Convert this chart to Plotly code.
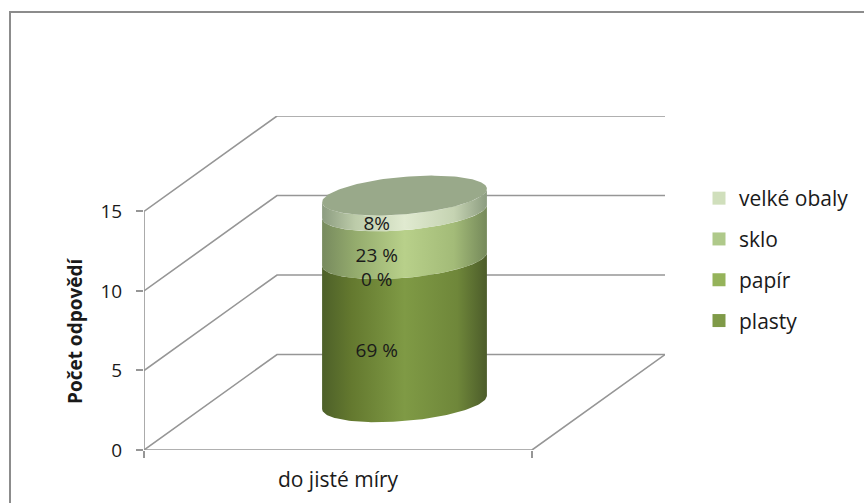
import numpy as np
import plotly.graph_objects as go

category = "do jisté míry"
series_names = ["plasty", "papír", "sklo", "velké obaly"]
series_values = [9, 0, 3, 1]
data_labels = ["69 %", "0 %", "23 %", "8%"]
y_ticks = [0, 5, 10, 15]
y_title = "Počet odpovědí"

legend_colors = ["#7f9a48", "#95b35a", "#afc98a", "#d0dfbc"]
side_scales = [
    [[0, "#4d6029"], [0.18, "#64792f"], [0.5, "#7f9a45"], [0.82, "#6f873a"], [1, "#4c5c2a"]],
    [[0, "#6a7f40"], [0.5, "#9ab85e"], [1, "#6a7f40"]],
    [[0, "#778a5e"], [0.2, "#94ab6d"], [0.5, "#b8d08a"], [0.8, "#a3bb78"], [1, "#75895a"]],
    [[0, "#8c9c80"], [0.2, "#bccba9"], [0.5, "#e0ead0"], [0.8, "#c5d3b2"], [1, "#8c9c80"]],
]
top_color = "#99a98a"
line_color = "#969696"
frame_color = "#8c8c8c"
text_color = "#1a1a1a"
font = "Open Sans"

W, H = 864, 503
L, R, T, B = 144, 665, 116, 450
DX = 133 / 388
DY = 6.0
RX = 0.2
RD = 0.2086
LABEL_DROP = 0.13


def proj(x, v, d):
    return x + DX * d, v + DY * d


fig = go.Figure()


def line(xs, ys):
    fig.add_trace(go.Scatter(x=xs, y=ys, mode="lines", showlegend=False, hoverinfo="skip",
                             line=dict(color=line_color, width=1.6), cliponaxis=False))


for v in y_ticks:
    x0, y0 = proj(0, v, 1)
    x1, y1 = proj(1, v, 1)
    line([0, x0, x1], [v, y0, y1])
line([0, 0], [0, y_ticks[-1]])
line([0, 1, proj(1, 0, 1)[0]], [0, 0, proj(1, 0, 1)[1]])

t0 = np.arctan2(RD * DX, RX)
front = np.linspace(t0 + np.pi, t0 + 2 * np.pi, 80)
full = np.linspace(0, 2 * np.pi, 160)


def ring(ts, v):
    d = 0.5 + RD * np.sin(ts)
    return proj(0.5 + RX * np.cos(ts), v, d)


base = 0
for name, val, scale in zip(series_names, series_values, side_scales):
    xb, yb = ring(front, base)
    xt, yt = ring(front, base + val)
    fig.add_trace(go.Scatter(
        x=np.r_[xb, xt[::-1], xb[:1]], y=np.r_[yb, yt[::-1], yb[:1]],
        mode="lines", line=dict(width=0), fill="toself",
        fillgradient=dict(type="horizontal", colorscale=scale),
        showlegend=False, hoverinfo="skip"))
    base += val

xt, yt = ring(full, base)
fig.add_trace(go.Scatter(x=xt, y=yt, mode="lines", line=dict(width=0), fill="toself",
                         fillcolor=top_color, showlegend=False, hoverinfo="skip"))

base = 0
for val, lab in zip(series_values, data_labels):
    xl, yl = proj(0.5, base + val / 2 - LABEL_DROP, 0.5 - RD)
    fig.add_trace(go.Scatter(x=[xl], y=[yl], mode="text", text=[lab], textposition="middle center",
                             textfont=dict(family=font, size=19, color=text_color),
                             showlegend=False, hoverinfo="skip", cliponaxis=False))
    base += val

for name, c in reversed(list(zip(series_names, legend_colors))):
    fig.add_trace(go.Scatter(x=[None], y=[None], mode="markers", name=name, legendgroup=name,
                             marker=dict(symbol="square", size=13, color=c)))

fig.add_annotation(text=f"<b>{y_title}</b>", xref="paper", yref="paper", x=75 / W, y=1 - 331 / H,
                   xanchor="center", yanchor="middle",
                   showarrow=False, textangle=-90,
                   font=dict(family=font, size=19, color=text_color))

fig.add_shape(type="path", xref="paper", yref="paper",
              path=f"M {10/W} 0 L {10/W} {1-12/H} L 1 {1-12/H}",
              line=dict(color=frame_color, width=2))

fig.update_layout(
    width=W, height=H, margin=dict(l=0, r=0, t=0, b=0),
    paper_bgcolor="white", plot_bgcolor="white", autosize=False,
    xaxis=dict(domain=[L / W, R / W], range=[0, 1 + DX], showgrid=False, zeroline=False,
               automargin=False,
               showline=False, tickvals=[0.5], ticktext=[category], ticks="",
               ticklabelstandoff=15,
               tickfont=dict(family=font, size=21, color=text_color),
               minor=dict(tickmode="array", tickvals=[0, 1], ticks="outside", ticklen=7,
                          tickcolor=line_color, tickwidth=1.6, showgrid=False)),
    yaxis=dict(domain=[1 - B / H, 1 - T / H], range=[0, y_ticks[-1] + DY], showgrid=False,
               automargin=False,
               zeroline=False, showline=False, tickvals=y_ticks, ticks="outside", ticklen=7,
               tickcolor=line_color, tickwidth=1.6, ticklabelstandoff=10,
               tickfont=dict(family=font, size=19, color=text_color)),
    legend=dict(x=699 / W, y=1 - 178 / H, xanchor="left", yanchor="top",
                traceorder="grouped", tracegroupgap=10.5, itemwidth=30,
                font=dict(family=font, size=21, color=text_color), bgcolor="rgba(0,0,0,0)"),
)
fig.write_html("out.html", config={"displayModeBar": False},
               post_script="document.body.style.margin='0';document.documentElement.style.overflow='hidden';")
